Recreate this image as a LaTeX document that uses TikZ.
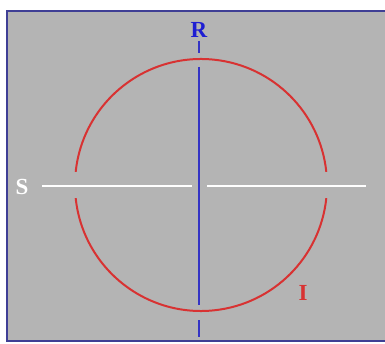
\documentclass[tikz,border=0pt]{standalone}
\usepackage{fontspec}
\setmainfont{Liberation Serif}
\usetikzlibrary{positioning, calc}
\definecolor{panelgray}{HTML}{B4B4B4}
\definecolor{panelframe}{HTML}{3F3F95}
\definecolor{axisblue}{HTML}{3434C4}
\definecolor{labelblue}{HTML}{1E1ED2}
\definecolor{ringred}{HTML}{D83232}
\definecolor{axiswhite}{HTML}{FFFFFF}
\begin{document}
\begin{tikzpicture}[x=1pt, y=-1pt,
    axislabel/.style={font=\fontsize{23}{27}\selectfont\bfseries, inner sep=0pt},
    rline/.style={draw=axisblue, line width=2.4pt},
    sline/.style={draw=axiswhite, line width=2.6pt},
    ring/.style={draw=ringred, line width=2pt}]
    \useasboundingbox (0,0) rectangle (385,344);
    % panel
    \fill[panelgray] (7,11) rectangle (390,341);
    \draw[panelframe, line width=2.4pt] (390,11) -- (7,11) -- (7,341) -- (390,341);
    % axes end points
    \coordinate (Rtop) at (199,41);
    \coordinate (Rbot) at (199,337);
    \coordinate (Sleft) at (42,186);
    \coordinate (Sright) at (366,186);
    \coordinate (ctr) at (201,185);
    % white axis, broken at the blue one
    \draw[sline] (Sleft) -- ($(ctr)+(-9,1)$);
    \draw[sline] ($(ctr)+(6,1)$) -- (Sright);
    % red circle, broken at the white axis
    \draw[ring] ($(ctr)+(174:126)$) arc[start angle=174, end angle=6, radius=126];
    \draw[ring] ($(ctr)+(186:126)$) arc[start angle=186, end angle=354, radius=126];
    % blue axis, broken at the circle
    \draw[rline] (Rtop) -- (199,53);
    \draw[rline] (199,67) -- (199,305);
    \draw[rline] (199,320) -- (Rbot);
    % labels
    \node[axislabel, text=labelblue] (R) at (199,30) {R};
    \node[axislabel, text=axiswhite] (S) at (22,187) {S};
    \node[axislabel, text=ringred] (I) at (303,293) {I};
  \end{tikzpicture}
\end{document}
